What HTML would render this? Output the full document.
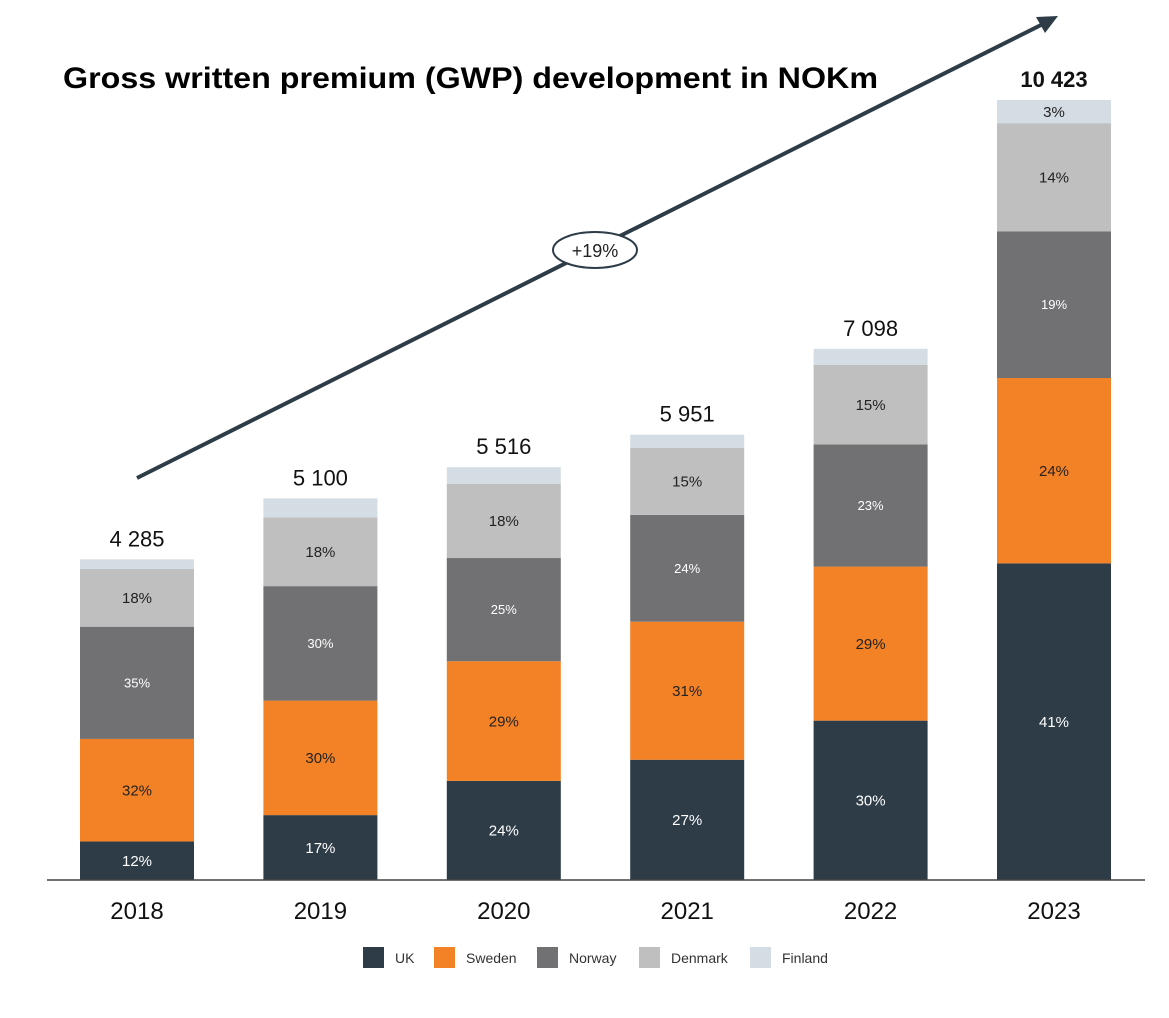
<!DOCTYPE html>
<html><head><meta charset="utf-8"><style>
html,body{margin:0;padding:0;background:#fff;}
svg{display:block;font-family:"Liberation Sans","DejaVu Sans",sans-serif;}
</style></head><body>
<svg id="chart" width="1169" height="1018" viewBox="0 0 1169 1018">
<text x="63" y="88" font-size="30" font-weight="bold" fill="#000" textLength="815" lengthAdjust="spacingAndGlyphs">Gross written premium (GWP) development in NOKm</text>
<line x1="137" y1="478" x2="1045" y2="23" stroke="#2d3c47" stroke-width="4"/>
<polygon points="1058,16 1036,17 1045,33" fill="#2d3c47"/>
<ellipse cx="595" cy="250" rx="42" ry="18" fill="#fff" stroke="#2d3c47" stroke-width="2"/>
<text x="595" y="257" font-size="18" text-anchor="middle" fill="#222">+19%</text>
<g id="bars"></g>
<line x1="47" y1="880" x2="1145" y2="880" stroke="#444" stroke-width="1.5"/>
<g id="legend"></g>
</svg>
<script>
const years = ["2018","2019","2020","2021","2022","2023"];
const totals = [4285,5100,5516,5951,7098,10423];
const totalLabels = ["4 285","5 100","5 516","5 951","7 098","10 423"];
const series = ["UK","Sweden","Norway","Denmark","Finland"];
const ukShare = [12,17,24,27,30,41];
const swedenShare = [32,30,29,31,29,24];
const norwayShare = [35,30,25,24,23,19];
const denmarkShare = [18,18,18,15,15,14];
const finlandShare = [3,5,4,3,3,3];
const colors = ["#2d3c47","#f38226","#717073","#bfbfbf","#d3dde3"];
const textColors = ["#fff","#222","#fff","#222","#222"];
const textSizes = [15,15,13,15,15];
const showLabel = [true,true,true,true,false];

const ns = "http://www.w3.org/2000/svg";
const baseY = 880, yMax = 10423, plotH = 780;
const y = v => baseY - v / yMax * plotH;
const x0 = 80, step = 183.4, bw = 114;
const xPos = i => x0 + i * step;
const shares = [ukShare, swedenShare, norwayShare, denmarkShare, finlandShare];
const g = document.getElementById("bars");
function mk(tag, attrs){const e=document.createElementNS(ns,tag);for(const k in attrs)e.setAttribute(k,attrs[k]);return e;}
years.forEach((yr,i)=>{
  const sum = shares.reduce((a,s)=>a+s[i],0);
  let cum = 0;
  shares.forEach((s,k)=>{
    const v = totals[i]*s[i]/sum;
    const yt = y(cum+v), yb = y(cum);
    const r = mk("rect",{x:xPos(i),y:yt,width:bw,height:yb-yt,fill:colors[k]});
    
    
    g.appendChild(r);
    if (showLabel[k] || i===5) {
      const t = mk("text",{x:xPos(i)+bw/2,y:(yt+yb)/2+textSizes[k]*0.35,"font-size":textSizes[k],"text-anchor":"middle",fill:textColors[k]});
      t.textContent = s[i]+"%";
      
      
      g.appendChild(t);
    }
    cum += v;
  });
  const tl = mk("text",{x:xPos(i)+bw/2,y:y(totals[i])-13,"font-size":22,"text-anchor":"middle",fill:"#111","font-weight":i===5?"bold":"normal"});
  tl.textContent = totalLabels[i];
  
  
  g.appendChild(tl);
  const xl = mk("text",{x:xPos(i)+bw/2,y:919,"font-size":24,"text-anchor":"middle",fill:"#111"});
  xl.textContent = yr;
  
  
  g.appendChild(xl);
});
const lg = document.getElementById("legend");
const legX = [363,434,537,639,750];
series.forEach((s,k)=>{
  const r = mk("rect",{x:legX[k],y:947,width:21,height:21,fill:colors[k]});
  
  
  lg.appendChild(r);
  const t = mk("text",{x:legX[k]+32,y:963,"font-size":14,fill:"#333"});
  t.textContent = s;
  
  
  lg.appendChild(t);
});
</script>
</body></html>
